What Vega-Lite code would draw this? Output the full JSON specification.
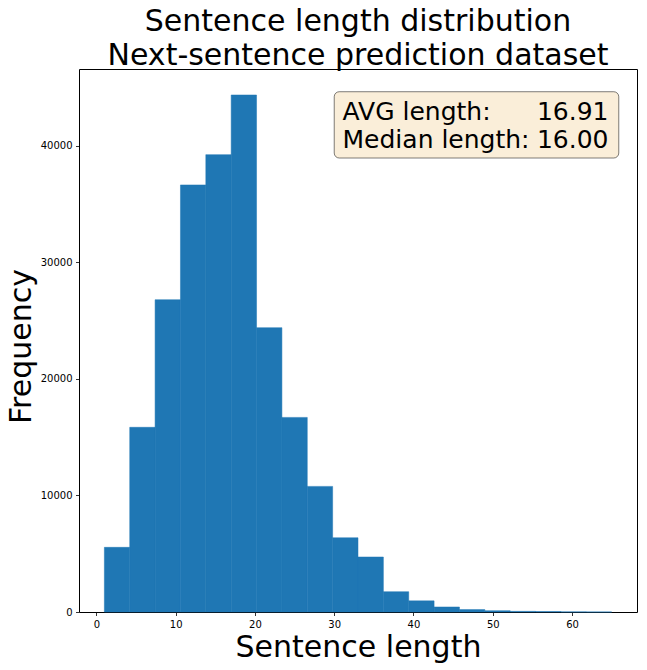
{
  "$schema": "https://vega.github.io/schema/vega-lite/v6.json",
  "autosize": "none",
  "width": 558,
  "height": 543,
  "padding": {"left": 79, "top": 69, "right": 10, "bottom": 58},
  "background": "white",
  "title": {
    "text": ["Sentence length distribution", "Next-sentence prediction dataset"],
    "fontSize": 30,
    "font": "DejaVu Sans",
    "fontWeight": "normal",
    "color": "black",
    "anchor": "middle",
    "frame": "group",
    "baseline": "bottom",
    "lineHeight": 34,
    "offset": -32
  },
  "datasets": {
    "bins": [
      {"start": 1.0, "end": 4.2, "count": 5550},
      {"start": 4.2, "end": 7.4, "count": 15850},
      {"start": 7.4, "end": 10.6, "count": 26800},
      {"start": 10.6, "end": 13.8, "count": 36650},
      {"start": 13.8, "end": 17.0, "count": 39250},
      {"start": 17.0, "end": 20.2, "count": 44370},
      {"start": 20.2, "end": 23.4, "count": 24400},
      {"start": 23.4, "end": 26.6, "count": 16700},
      {"start": 26.6, "end": 29.8, "count": 10780},
      {"start": 29.8, "end": 33.0, "count": 6370},
      {"start": 33.0, "end": 36.2, "count": 4720},
      {"start": 36.2, "end": 39.4, "count": 1740},
      {"start": 39.4, "end": 42.6, "count": 960},
      {"start": 42.6, "end": 45.8, "count": 430},
      {"start": 45.8, "end": 49.0, "count": 210},
      {"start": 49.0, "end": 52.2, "count": 110},
      {"start": 52.2, "end": 55.4, "count": 55},
      {"start": 55.4, "end": 58.6, "count": 40},
      {"start": 58.6, "end": 61.8, "count": 12},
      {"start": 61.8, "end": 65.0, "count": 5}
    ],
    "box": [
      {"x0": 30.0, "x1": 65.9, "y0": 38960, "y1": 44650}
    ],
    "notes": [
      {"label": "AVG length:", "value": "16.91", "xl": 31.05, "xr": 64.6, "y": 42220},
      {"label": "Median length:", "value": "16.00", "xl": 31.05, "xr": 64.6, "y": 39800}
    ]
  },
  "layer": [
    {
      "data": {"name": "bins"},
      "mark": {"type": "rect", "fill": "#1f77b4", "stroke": "#1f77b4", "strokeWidth": 0.5},
      "encoding": {
        "x": {
          "field": "start",
          "type": "quantitative",
          "scale": {"domain": [-2.2, 68.2], "nice": false, "zero": false},
          "axis": {
            "title": "Sentence length",
            "values": [0, 10, 20, 30, 40, 50, 60],
            "titleX": 279,
            "titleY": 44,
            "titleBaseline": "alphabetic",
            "titleAlign": "center",
            "titleAnchor": null
          }
        },
        "x2": {"field": "end"},
        "y": {
          "field": "count",
          "type": "quantitative",
          "scale": {"domain": [0, 46600], "nice": false},
          "axis": {
            "title": "Frequency",
            "values": [0, 10000, 20000, 30000, 40000],
            "format": "d",
            "titleX": -49,
            "titleY": 277,
            "titleAngle": -90,
            "titleBaseline": "alphabetic",
            "titleAlign": "center",
            "titleAnchor": null
          }
        },
        "y2": {"datum": 0}
      }
    },
    {
      "data": {"name": "box"},
      "mark": {"type": "rect", "fill": "#f5deb3", "fillOpacity": 0.5, "stroke": "black", "strokeOpacity": 0.5, "strokeWidth": 1, "cornerRadius": 5},
      "encoding": {
        "x": {"field": "x0", "type": "quantitative"},
        "x2": {"field": "x1"},
        "y": {"field": "y0", "type": "quantitative"},
        "y2": {"field": "y1"}
      }
    },
    {
      "data": {"name": "notes"},
      "mark": {"type": "text", "font": "DejaVu Sans", "fontSize": 25, "align": "left", "baseline": "alphabetic", "color": "black"},
      "encoding": {
        "x": {"field": "xl", "type": "quantitative"},
        "y": {"field": "y", "type": "quantitative"},
        "text": {"field": "label"}
      }
    },
    {
      "data": {"name": "notes"},
      "mark": {"type": "text", "font": "DejaVu Sans", "fontSize": 25, "align": "right", "baseline": "alphabetic", "color": "black"},
      "encoding": {
        "x": {"field": "xr", "type": "quantitative"},
        "y": {"field": "y", "type": "quantitative"},
        "text": {"field": "value"}
      }
    }
  ],
  "config": {
    "view": {"stroke": "black", "strokeWidth": 1},
    "axis": {
      "domain": false,
      "grid": false,
      "labelFont": "DejaVu Sans",
      "labelFontSize": 10,
      "labelColor": "black",
      "tickColor": "black",
      "tickSize": 3.5,
      "tickWidth": 0.8,
      "labelPadding": 3.5,
      "titleFont": "DejaVu Sans",
      "titleFontSize": 30,
      "titleFontWeight": "normal",
      "titleColor": "black"
    }
  }
}
